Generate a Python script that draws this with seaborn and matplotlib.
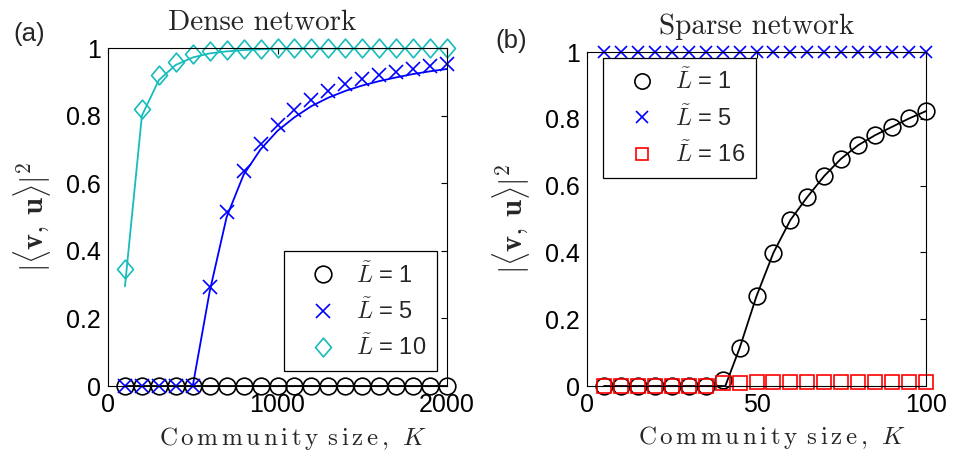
import matplotlib
matplotlib.use("Agg")
import matplotlib.pyplot as plt
from matplotlib.path import Path
import seaborn as sns

# ---- data -------------------------------------------------------------
# Dense network: community sizes and overlap |<v,u>|^2
K_dense = [100, 200, 300, 400, 500, 600, 700, 800, 900, 1000,
           1100, 1200, 1300, 1400, 1500, 1600, 1700, 1800, 1900, 2000]
dense_L1 = [0, 0, 0, 0, 0, 0, 0, 0, 0, 0,
            0, 0, 0, 0, 0, 0, 0, 0, 0, 0]
dense_L5 = [0, 0, 0, 0, 0, 0.294, 0.515, 0.636, 0.715, 0.771,
            0.816, 0.847, 0.873, 0.893, 0.907, 0.919, 0.929, 0.939, 0.946, 0.954]
dense_L10 = [0.345, 0.821, 0.919, 0.959, 0.983, 0.990, 0.995, 0.997, 0.998, 0.999,
             1.0, 1.0, 1.0, 1.0, 1.0, 1.0, 1.0, 1.0, 1.0, 1.0]

# analytic curves (dense)
K_dense_L1_curve = [100, 2000]
dense_L1_curve = [0, 0]
K_dense_L5_curve = [500, 600, 700, 800, 900, 1000, 1100, 1200, 1300, 1400,
                    1500, 1600, 1700, 1800, 1900, 2000]
dense_L5_curve = [0, 0.28, 0.50, 0.625, 0.70, 0.755, 0.795, 0.828, 0.853, 0.873,
                  0.889, 0.902, 0.913, 0.923, 0.931, 0.938]
K_dense_L10_curve = [100, 200, 300, 400, 500, 600, 700, 800, 900, 1000, 2000]
dense_L10_curve = [0.295, 0.80, 0.905, 0.950, 0.972, 0.984, 0.990, 0.994, 0.996, 0.998, 1.0]

# Sparse network
K_sparse = [5, 10, 15, 20, 25, 30, 35, 40, 45, 50,
            55, 60, 65, 70, 75, 80, 85, 90, 95, 100]
sparse_L1 = [0, 0, 0, 0, 0, 0, 0, 0.018, 0.113, 0.269,
             0.399, 0.497, 0.566, 0.629, 0.681, 0.721, 0.751, 0.776, 0.801, 0.823]
sparse_L5 = [1, 1, 1, 1, 1, 1, 1, 1, 1, 1,
             1, 1, 1, 1, 1, 1, 1, 1, 1, 1]
sparse_L16 = [0, 0, 0, 0, 0, 0, 0, 0.010, 0.010, 0.011,
              0.011, 0.011, 0.012, 0.012, 0.012, 0.012, 0.013, 0.013, 0.013, 0.013]

# analytic curves (sparse)
K_sparse_L1_curve = [5, 40.8, 45, 50, 55, 60, 65, 70, 75, 80, 85, 90, 95, 100]
sparse_L1_curve = [0, 0, 0.113, 0.269, 0.399, 0.497, 0.566, 0.629, 0.681,
                   0.721, 0.751, 0.776, 0.801, 0.823]
K_sparse_L5_curve = [5, 100]
sparse_L5_curve = [1, 1]

y_ticks = [0, 0.2, 0.4, 0.6, 0.8, 1.0]
y_tick_labels = ["0", "0.2", "0.4", "0.6", "0.8", "1"]

CYAN = "#17bcbc"
BLUE = "#0000ff"
RED = "#ff0000"
BLACK = "#000000"

# diamond marker, a touch taller than wide
DIAMOND = Path([(0, 1), (0.85, 0), (0, -1), (-0.85, 0), (0, 1)],
               [Path.MOVETO, Path.LINETO, Path.LINETO, Path.LINETO, Path.CLOSEPOLY])

# ---- style ------------------------------------------------------------
sns.set_theme(style="white")
plt.rcParams["font.family"] = ["Liberation Sans", "DejaVu Sans"]
plt.rcParams["mathtext.fontset"] = "cm"
plt.rcParams["axes.edgecolor"] = "black"
plt.rcParams["axes.linewidth"] = 0.8

fig = plt.figure(figsize=(9.55, 4.59), dpi=100)
W, H = 955, 459


def add_axes(left, top, right, bottom):
    return fig.add_axes([left / W, 1 - bottom / H, (right - left) / W, (bottom - top) / H])


ax1 = add_axes(108, 48, 447, 386)
ax2 = add_axes(587, 52, 926, 386)


def curve(ax, x, y, color):
    sns.lineplot(x=x, y=y, ax=ax, color=color, lw=1.3, legend=False, sort=False)


def points(ax, x, y, color, marker, ms, label):
    if isinstance(marker, str) and marker == "x":
        kw = dict(mec=color)
    else:
        kw = dict(mfc="none", mec=color)
    sns.lineplot(x=x, y=y, ax=ax, color=color, linestyle="none", marker=marker,
                 ms=ms, mew=1.2, label=label, clip_on=False, sort=False, **kw)


# (a) dense network
curve(ax1, K_dense_L1_curve, dense_L1_curve, BLACK)
curve(ax1, K_dense_L10_curve, dense_L10_curve, CYAN)
curve(ax1, K_dense_L5_curve, dense_L5_curve, BLUE)
points(ax1, K_dense, dense_L1, BLACK, "o", 12, r"$\tilde{L}$ = 1")
points(ax1, K_dense, dense_L5, BLUE, "x", 9.5, r"$\tilde{L}$ = 5")
points(ax1, K_dense, dense_L10, CYAN, DIAMOND, 13.5, r"$\tilde{L}$ = 10")
ax1.set_xlim(0, 2000)
ax1.set_xticks([0, 1000, 2000])

# (b) sparse network
curve(ax2, K_sparse_L1_curve, sparse_L1_curve, BLACK)
curve(ax2, K_sparse_L5_curve, sparse_L5_curve, BLUE)
points(ax2, K_sparse, sparse_L1, BLACK, "o", 12, r"$\tilde{L}$ = 1")
points(ax2, K_sparse, sparse_L5, BLUE, "x", 9, r"$\tilde{L}$ = 5")
points(ax2, K_sparse, sparse_L16, RED, "s", 10.5, r"$\tilde{L}$ = 16")
ax2.set_xlim(0, 100)
ax2.set_xticks([0, 50, 100])

xlabel = (r"$\mathrm{C\,o\,m\,m\,u\,n\,i\,t\,y\;\,s\,i\,z\,e\,,\;\,}K$")

for ax, title, tx in ((ax1, "Dense network", 0.454), (ax2, "Sparse network", 0.5)):
    ax.set_ylim(0, 1)
    ax.set_yticks(y_ticks)
    ax.set_yticklabels(y_tick_labels)
    ax.tick_params(direction="in", top=True, right=True, length=4, width=0.8,
                   labelsize=18, pad=5, colors="black")
    for s in ax.spines.values():
        s.set_visible(True)
        s.set_color("black")
    ax.set_title(title, fontfamily="cmr10", fontsize=21, pad=13, x=tx)
    ax.set_xlabel(xlabel, fontsize=18)
    ax.set_ylabel(r"$|\langle \mathbf{v},\, \mathbf{u}\rangle|^2$", fontsize=22)
    ax.xaxis.set_label_coords(0.546, -0.115)
    ax.yaxis.set_label_coords(-0.162, 0.5)

leg_kw = dict(frameon=True, fancybox=False, framealpha=1, edgecolor="black",
              fontsize=17, borderaxespad=0, labelspacing=0.45, handletextpad=0.2,
              handlelength=2.4, borderpad=0.45)
leg1 = ax1.legend(loc="lower right", bbox_to_anchor=(0.9705, 0.0444), **leg_kw)
leg2 = ax2.legend(loc="upper left", bbox_to_anchor=(0.047, 0.982), **leg_kw)
for leg in (leg1, leg2):
    leg.get_frame().set_linewidth(0.9)
# legend symbols in the sparse panel are drawn a little smaller
for h, ms in zip(leg2.legend_handles, (11, 8, 9)):
    h.set_markersize(ms)

fig.text(13 / W, 1 - 34 / H, "(a)", fontsize=18.5, va="center", ha="left")
fig.text(495 / W, 1 - 41 / H, "(b)", fontsize=18.5, va="center", ha="left")

fig.savefig("out.png", dpi=100)
